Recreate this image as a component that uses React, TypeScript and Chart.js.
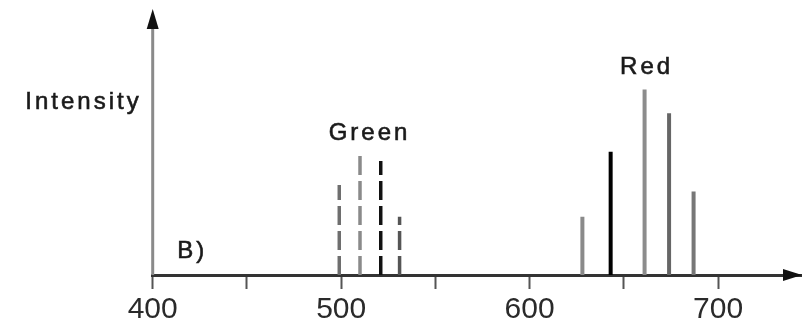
import React, { useEffect, useRef } from "react";
import { Chart, registerables } from "chart.js";

Chart.register(...registerables);

// ---- data ----
const GREEN_WAVELENGTHS = [499, 510, 521, 531];
const GREEN_INTENSITIES = [34, 46, 43, 22];
const RED_WAVELENGTHS = [628, 643, 661, 674, 687];
const RED_INTENSITIES = [22, 46.5, 70, 61, 31.5];
const X_LABELED_TICKS = [400, 500, 600, 700];
const X_MIN = 400;
const X_MAX = 744;
const X_STEP = 50;
const Y_MAX = 100;

// ---- styles ----
const GREEN_COLORS = ["#6e6e6e", "#8a8a8a", "#111111", "#555555"];
const RED_COLORS = ["#8a8a8a", "#000000", "#8c8c8c", "#666666", "#777777"];
const FONT = "'Liberation Sans', Arial, sans-serif";

// annotation placements (data coordinates)
const LABELS = [
  { text: "Green", x: 514, y: 51 },
  { text: "Red", x: 661, y: 75.7 },
];

const overlayPlugin = {
  id: "overlay",
  afterDraw(chart: any) {
    const { ctx, chartArea, scales } = chart;
    const xs = scales.x;
    const ys = scales.y;
    const x0 = xs.getPixelForValue(X_MIN);
    ctx.save();
    // y axis line
    ctx.strokeStyle = "#8a8a8a";
    ctx.lineWidth = 3;
    ctx.beginPath();
    ctx.moveTo(x0, chartArea.bottom);
    ctx.lineTo(x0, chartArea.top + 12);
    ctx.stroke();
    // y arrow
    ctx.fillStyle = "#111";
    ctx.beginPath();
    ctx.moveTo(x0, chartArea.top - 1);
    ctx.lineTo(x0 - 6, chartArea.top + 19);
    ctx.lineTo(x0 + 6, chartArea.top + 19);
    ctx.closePath();
    ctx.fill();
    // x arrow
    const yb = chartArea.bottom;
    const xr = chartArea.right;
    ctx.beginPath();
    ctx.moveTo(xr + 1, yb);
    ctx.lineTo(xr - 18, yb - 6);
    ctx.lineTo(xr - 18, yb + 6);
    ctx.closePath();
    ctx.fill();

    // texts
    ctx.fillStyle = "#1a1a1a";
    ctx.strokeStyle = "#1a1a1a";
    ctx.lineWidth = 0.6;
    ctx.font = `24px ${FONT}`;
    try {
      (ctx as any).letterSpacing = "3px";
    } catch (e) {}
    ctx.textBaseline = "alphabetic";
    const put = (t: string, px: number, py: number, align: string) => {
      ctx.textAlign = align;
      ctx.fillText(t, px, py);
      ctx.strokeText(t, px, py);
    };
    for (const l of LABELS) {
      put(l.text, xs.getPixelForValue(l.x) + 2, ys.getPixelForValue(l.y), "center");
    }
    put("Intensity", x0 - 11, ys.getPixelForValue(62.5), "right");
    put("B)", xs.getPixelForValue(413), ys.getPixelForValue(6.6), "left");
    ctx.restore();
  },
};

export default function App() {
  const ref = useRef<HTMLCanvasElement | null>(null);
  useEffect(() => {
    if (!ref.current) return;
    const datasets: any[] = [];
    GREEN_WAVELENGTHS.forEach((w, i) => {
      datasets.push({
        data: [
          { x: w, y: 0 },
          { x: w, y: GREEN_INTENSITIES[i] },
        ],
        borderColor: GREEN_COLORS[i],
        borderWidth: 3.5,
        borderDash: [19, 6],
        borderCapStyle: "butt",
        pointRadius: 0,
        fill: false,
      });
    });
    RED_WAVELENGTHS.forEach((w, i) => {
      datasets.push({
        data: [
          { x: w, y: 0 },
          { x: w, y: RED_INTENSITIES[i] },
        ],
        borderColor: RED_COLORS[i],
        borderWidth: 4,
        borderCapStyle: "butt",
        pointRadius: 0,
        fill: false,
      });
    });
    const chart = new Chart(ref.current, {
      type: "line",
      data: { datasets },
      options: {
        animation: false,
        responsive: true,
        maintainAspectRatio: false,
        layout: { padding: { left: 152.7, right: 2, top: 10, bottom: -10 } },
        plugins: { legend: { display: false }, tooltip: { enabled: false } },
        scales: {
          x: {
            type: "linear",
            min: X_MIN,
            max: X_MAX,
            border: { display: true, color: "#333", width: 3 },
            grid: {
              drawOnChartArea: false,
              drawTicks: true,
              tickLength: 14,
              tickColor: "#555",
              tickWidth: 2,
            },
            ticks: {
              stepSize: X_STEP,
              includeBounds: false,
              autoSkip: false,
              maxRotation: 0,
              padding: 8,
              color: "#2a2a2a",
              font: { family: FONT, size: 30, lineHeight: 0.833 },
              callback: (v: any) => (X_LABELED_TICKS.includes(Number(v)) ? String(v) : ""),
            },
          },
          y: {
            display: false,
            min: 0,
            max: Y_MAX,
          },
        },
      },
      plugins: [overlayPlugin],
    } as any);
    return () => chart.destroy();
  }, []);
  return (
    <div style={{ position: "absolute", left: 0, top: 0, width: 803, height: 320, background: "#fff" }}>
      <canvas ref={ref} />
    </div>
  );
}
